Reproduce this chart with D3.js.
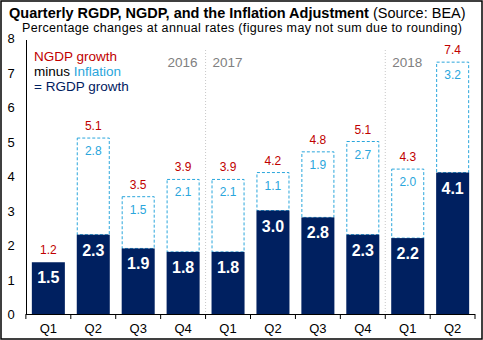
<!DOCTYPE html>
<html>
<head>
  <meta charset="utf-8">
  <title>Quarterly RGDP, NGDP, and the Inflation Adjustment</title>
  <script src="https://d3js.org/d3.v7.min.js"></script>
  <style>
    body { margin: 0; font-family: Arial, "Liberation Sans", sans-serif; }
    svg { display: block; }
  </style>
</head>
<body>
  <div id="chart"></div>
  <script>
    // chart data (percent change, annual rate)
    const quarters = ["Q1", "Q2", "Q3", "Q4", "Q1", "Q2", "Q3", "Q4", "Q1", "Q2"];
    const rgdp = [1.5, 2.3, 1.9, 1.8, 1.8, 3.0, 2.8, 2.3, 2.2, 4.1];
    const inflation = [null, 2.8, 1.5, 2.1, 2.1, 1.1, 1.9, 2.7, 2.0, 3.2];
    const ngdp = [1.2, 5.1, 3.5, 3.9, 3.9, 4.2, 4.8, 5.1, 4.3, 7.4];
    const years = [
      { label: "2016", before: 4 },
      { label: "2017", after: 4 },
      { label: "2018", after: 8 }
    ];
    const yTicks = [0, 1, 2, 3, 4, 5, 6, 7, 8];

    const W = 483, H = 340;
    const navy = "#002060", red = "#c00000", blue = "#2aa6dc", grey = "#808080";

    const data = quarters.map((q, i) => ({
      i, q, rgdp: rgdp[i], infl: inflation[i], ngdp: ngdp[i]
    }));

    const svg = d3.select("#chart").append("svg")
      .attr("width", W).attr("height", H);

    svg.append("rect").attr("width", W).attr("height", H).attr("fill", "#fff");

    // scales
    const x = d3.scaleBand().domain(d3.range(quarters.length))
      .range([26, 475]).paddingInner(0.265).paddingOuter(0.13);
    const y = d3.scaleLinear().domain([0, 8]).range([314, 38]);
    const step = x.step();
    const edge = i => x(i) - step * x.paddingInner() / 2;

    // title
    const title = svg.append("text").attr("x", 9).attr("y", 18)
      .style("font-size", "14.5px").attr("fill", "#000");
    title.append("tspan").style("font-weight", "bold")
      .text("Quarterly RGDP, NGDP, and the Inflation Adjustment");
    title.append("tspan").text(" (Source: BEA)");

    svg.append("text").attr("x", 22).attr("y", 32)
      .style("font-size", "12.5px").attr("fill", "#000")
      .attr("textLength", 440).attr("lengthAdjust", "spacing")
      .text("Percentage changes at annual rates (figures may not sum due to rounding)");

    // year separators
    [4, 8].forEach(i => {
      svg.append("line")
        .attr("x1", edge(i)).attr("x2", edge(i))
        .attr("y1", 50).attr("y2", y(0))
        .attr("stroke", "#c8c8c8").attr("stroke-dasharray", "1,2");
    });
    years.forEach(d => {
      const t = svg.append("text").attr("y", 67)
        .style("font-size", "13.5px").attr("fill", grey).text(d.label);
      if (d.before !== undefined) t.attr("x", edge(d.before) - 8).attr("text-anchor", "end");
      else t.attr("x", edge(d.after) + 7);
    });

    // legend
    const leg = [
      [{ t: "NGDP growth", c: red }],
      [{ t: "minus ", c: "#000" }, { t: "Inflation", c: blue }],
      [{ t: "= RGDP growth", c: navy }]
    ];
    leg.forEach((row, k) => {
      const t = svg.append("text").attr("x", 34).attr("y", 61 + k * 15)
        .style("font-size", "13.5px");
      row.forEach(p => t.append("tspan").attr("fill", p.c).text(p.t));
    });

    // inflation boxes (dashed)
    const boxes = data.filter(d => d.infl != null);
    svg.selectAll(".infl").data(boxes).enter().append("rect")
      .attr("class", "infl")
      .attr("x", d => x(d.i) + 0.5)
      .attr("width", x.bandwidth() - 1)
      .attr("y", d => y(d.rgdp + d.infl))
      .attr("height", d => y(d.rgdp) - y(d.rgdp + d.infl))
      .attr("fill", "#fff")
      .attr("stroke", blue).attr("stroke-width", 1)
      .attr("stroke-dasharray", "3,2");

    // RGDP bars
    svg.selectAll(".rgdp").data(data).enter().append("rect")
      .attr("class", "rgdp")
      .attr("x", d => x(d.i))
      .attr("width", x.bandwidth())
      .attr("y", d => y(d.rgdp))
      .attr("height", d => y(0) - y(d.rgdp))
      .attr("fill", navy);

    // labels
    svg.selectAll(".lr").data(data).enter().append("text")
      .attr("x", d => x(d.i) + x.bandwidth() / 2)
      .attr("y", d => y(d.rgdp) + 21)
      .attr("text-anchor", "middle").attr("fill", "#fff")
      .style("font-size", "16px").style("font-weight", "bold")
      .text(d => d.rgdp.toFixed(1));

    svg.selectAll(".li").data(boxes).enter().append("text")
      .attr("x", d => x(d.i) + x.bandwidth() / 2)
      .attr("y", d => y(d.rgdp + d.infl) + 17)
      .attr("text-anchor", "middle").attr("fill", blue)
      .style("font-size", "12px")
      .text(d => d.infl.toFixed(1));

    svg.selectAll(".ln").data(data).enter().append("text")
      .attr("x", d => x(d.i) + x.bandwidth() / 2)
      .attr("y", d => y(Math.max(d.rgdp, d.rgdp + (d.infl || 0))) - 8)
      .attr("text-anchor", "middle").attr("fill", red)
      .style("font-size", "12px")
      .text(d => d.ngdp.toFixed(1));

    // y axis
    svg.append("line").attr("x1", 26.5).attr("x2", 26.5)
      .attr("y1", y(8) + 2).attr("y2", y(0))
      .attr("stroke", "#000");
    svg.selectAll(".yt").data(yTicks).enter().append("text")
      .attr("x", 11).attr("y", d => y(d) + 5)
      .attr("text-anchor", "middle").style("font-size", "13px")
      .attr("fill", "#000").text(d => d);

    // x axis
    svg.append("line").attr("x1", 26).attr("x2", 475)
      .attr("y1", y(0) + 0.5).attr("y2", y(0) + 0.5).attr("stroke", "#000");
    d3.range(quarters.length + 1).forEach(i => {
      const xx = i < quarters.length ? edge(i) : 475;
      svg.append("line").attr("x1", xx).attr("x2", xx)
        .attr("y1", y(0)).attr("y2", y(0) + 5).attr("stroke", "#000");
    });
    svg.selectAll(".xt").data(data).enter().append("text")
      .attr("x", d => x(d.i) + x.bandwidth() / 2)
      .attr("y", 333)
      .attr("text-anchor", "middle").style("font-size", "13px")
      .attr("fill", "#000").text(d => d.q);

    // frame
    svg.append("rect").attr("x", 1).attr("y", 1)
      .attr("width", W - 2).attr("height", H - 2)
      .attr("fill", "none").attr("stroke", "#000").attr("stroke-width", 1.5);
  </script>
</body>
</html>
